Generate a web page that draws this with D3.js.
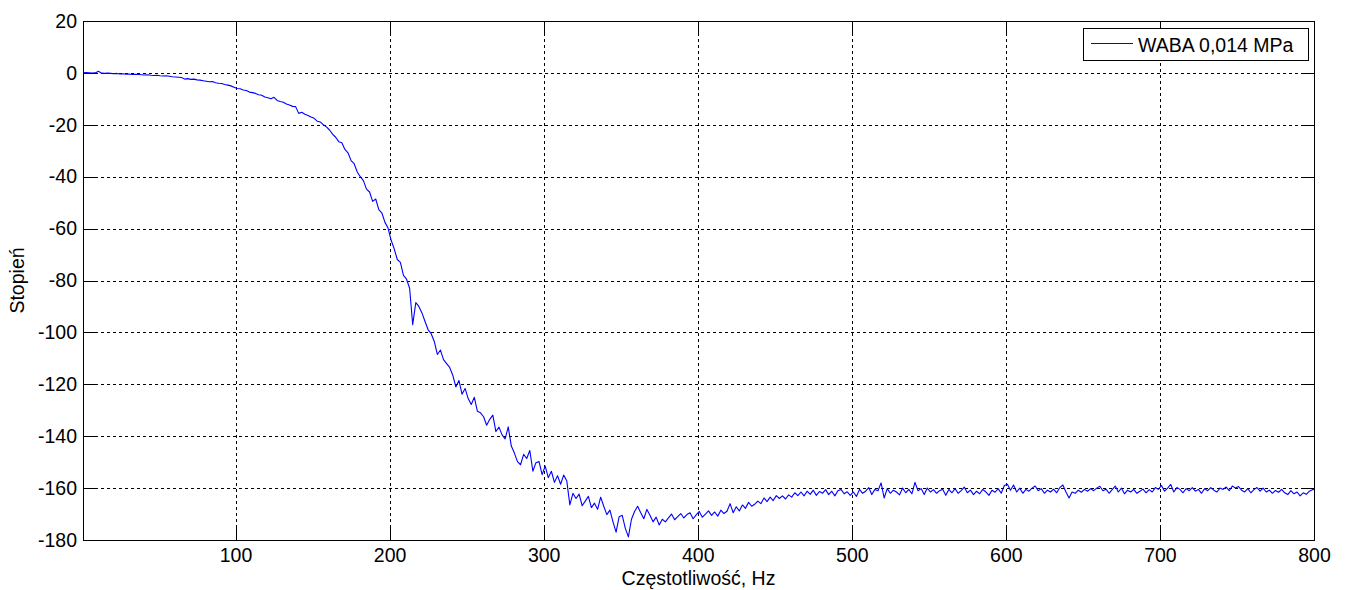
<!DOCTYPE html>
<html>
<head>
<meta charset="utf-8">
<script src="https://cdn.jsdelivr.net/npm/d3@7/dist/d3.min.js"></script>
<style>
  html, body { margin: 0; padding: 0; background: #fff; }
  svg { display: block; font-family: "Liberation Sans", Arial, sans-serif; }
</style>
</head>
<body>
<svg id="chart" width="1347" height="590"></svg>
<script>
// Phase response, sampled every 2 Hz starting at 1 Hz
const freqStart = 1;
const freqStep = 2;
const phaseDeg = [
  // 1–19 Hz
  0, 0.1, 0.0, -0.1, 0.0, 0.6, -0.1, -0.2, -0.1, -0.2,
  // 21–39
  -0.3, -0.2, -0.4, -0.3, -0.5, -0.4, -0.6, -0.5, -0.6, -0.7,
  // 41–59
  -0.8, -0.7, -0.9, -1.0, -0.9, -1.1, -1.2, -1.1, -1.3, -1.5,
  // 61–79
  -1.6, -1.7, -1.8, -2.4, -2.2, -2.5, -2.4, -2.7, -2.8, -3.0,
  // 81–99
  -3.2, -3.4, -3.3, -3.8, -4.0, -4.1, -4.5, -4.7, -5.0, -5.5,
  // 101–119
  -6.0, -6.1, -6.6, -6.8, -7.4, -7.6, -7.9, -8.4, -8.6, -9.3,
  // 121–139
  -9.6, -10.0, -9.4, -10.6, -11.0, -11.3, -12.0, -12.4, -12.9, -13.0,
  // 141–159
  -15.6, -15.2, -15.9, -16.4, -17.0, -17.5, -18.6, -18.9, -20.0, -20.8,
  // 161–179
  -22.0, -23.6, -24.8, -26.5, -26.9, -29.5, -30.8, -33.8, -35.0, -38.2,
  // 181–199
  -40.0, -41.5, -44.8, -45.9, -49.5, -48.6, -52.7, -54.0, -57.6, -59.8,
  // 201–219
  -64.5, -67.8, -71.9, -73.0, -78.0, -79.5, -83.0, -97.0, -88.5, -90.0,
  // 221–239
  -92.5, -95.8, -99.0, -100.5, -103.5, -108.5, -106.8, -110.5, -112.0, -113.5,
  // 241–259
  -116.5, -121.0, -118.5, -123.8, -121.6, -125.5, -127.8, -125.0, -130.4, -131.0,
  // 261–279
  -132.5, -135.8, -133.5, -131.9, -138.2, -136.5, -139.5, -141.0, -136.4, -143.8,
  // 281–299
  -146.5, -149.8, -151.0, -147.0, -148.6, -145.5, -153.5, -150.2, -149.8, -154.8,
  // 301–319
  -151.5, -156.0, -153.5, -157.8, -155.2, -158.5, -155.0, -157.2, -166.5, -162.0,
  // 321–339
  -164.0, -162.3, -166.8, -165.0, -163.2, -167.5, -165.8, -168.2, -163.5, -167.0,
  // 341–359
  -170.2, -168.5, -173.0, -177.0, -171.0, -170.5, -175.5, -178.8, -172.0, -169.0,
  // 361–379
  -167.0, -169.5, -171.8, -168.2, -170.5, -173.0, -171.2, -174.2, -172.0, -173.0,
  // 381–399
  -171.5, -170.0, -172.2, -171.0, -169.8, -171.5, -170.2, -169.5, -171.8, -170.3,
  // 401–419
  -169.0, -171.2, -170.0, -168.8, -170.5, -169.2, -170.8, -168.5, -169.8, -168.9,
  // 421–439
  -166.0, -169.5, -167.2, -168.8, -166.5, -167.8, -165.5, -167.0, -166.2, -165.0,
  // 441–459
  -166.0, -163.8, -165.2, -163.5, -164.8, -162.9, -164.0, -163.0, -164.2, -162.6,
  // 461–479
  -163.5, -161.8, -162.9, -161.5, -163.0, -161.2, -162.4, -160.8, -162.8, -161.3,
  // 481–499
  -162.0, -160.6, -162.5, -161.2, -163.0, -161.0, -160.5, -162.2, -161.4, -162.8,
  // 501–519
  -161.5, -163.2, -160.5, -162.0, -161.2, -159.8, -162.5, -160.5, -161.0, -158.0,
  // 521–539
  -163.8, -160.2, -162.0, -160.8, -161.5, -162.6, -160.0, -161.8, -160.5, -162.2,
  // 541–559
  -157.8, -161.0, -160.2, -162.5, -160.0, -161.5, -160.6, -162.0, -161.0, -160.4,
  // 561–579
  -162.8, -160.5, -161.8, -160.2, -162.0, -161.0, -159.6, -161.8, -160.8, -162.5,
  // 581–599
  -161.2, -162.2, -160.5, -161.5, -162.8, -160.8, -161.6, -160.2, -162.0, -159.0,
  // 601–619
  -158.5, -160.8, -158.8, -161.5, -160.0, -162.0, -160.5, -161.2, -160.0, -159.2,
  // 621–639
  -161.0, -160.2, -162.0, -160.8, -161.5, -160.4, -161.8, -159.8, -158.8, -161.5,
  // 641–659
  -163.8, -161.5, -162.0, -160.8, -161.6, -160.5, -161.2, -160.2, -161.0, -160.0,
  // 661–679
  -159.3, -161.0, -160.4, -162.0, -160.6, -159.2, -161.5, -160.0, -162.2, -160.8,
  // 681–699
  -161.5, -160.5, -162.0, -161.2, -160.4, -161.8, -160.6, -161.5, -159.8, -160.5,
  // 701–719
  -159.0, -161.2, -160.0, -158.6, -161.5, -159.8, -160.5, -161.8, -160.2, -161.0,
  // 721–739
  -159.8, -161.2, -160.5, -162.0, -160.2, -161.0, -159.8, -160.8, -161.5, -160.0,
  // 741–759
  -160.5, -159.6, -161.0, -159.2, -160.0, -159.4, -160.8, -161.5, -160.2, -161.8,
  // 761–779
  -160.6, -159.8, -161.2, -160.0, -161.5, -160.8, -162.0, -160.9, -161.6, -160.5,
  // 781–799
  -161.8, -162.5, -161.0, -162.2, -161.5, -163.0, -161.8, -162.4, -161.2, -160.6,
  // 801
  -160.4
];

const xTicks = [100, 200, 300, 400, 500, 600, 700, 800];
const yTicks = [-180, -160, -140, -120, -100, -80, -60, -40, -20, 0, 20];
const seriesName = "WABA 0,014 MPa";
const xLabel = "Częstotliwość, Hz";
const yLabel = "Stopień";

const margin = { left: 83, top: 21, right: 33, bottom: 50 };
const W = 1347, H = 590;
const pw = W - margin.left - margin.right;   // 1231
const ph = H - margin.top - margin.bottom;   // 519

const svg = d3.select("#chart");
const g = svg.append("g").attr("transform", `translate(${margin.left},${margin.top})`);

const x = d3.scaleLinear().domain([1, 800]).range([0, pw]);
const y = d3.scaleLinear().domain([-180, 20]).range([ph, 0]);

const points = phaseDeg.map((v, i) => [freqStart + i * freqStep, v]);

// Dashed grid
const grid = g.append("g").attr("stroke", "#000").attr("stroke-width", 1)
  .attr("stroke-dasharray", "3,3").attr("shape-rendering", "crispEdges");
grid.selectAll(".gx").data(xTicks.filter(t => t < 800)).enter().append("line")
  .attr("x1", d => Math.round(x(d)) + 0.5).attr("x2", d => Math.round(x(d)) + 0.5)
  .attr("y1", 0).attr("y2", ph);
grid.selectAll(".gy").data(yTicks.filter(t => t > -180 && t < 20)).enter().append("line")
  .attr("y1", d => Math.round(y(d)) + 0.5).attr("y2", d => Math.round(y(d)) + 0.5)
  .attr("x1", 0).attr("x2", pw);

// Clip the trace to the axes box
svg.append("defs").append("clipPath").attr("id", "plotClip")
  .append("rect").attr("width", pw).attr("height", ph);

const line = d3.line().x(d => x(d[0])).y(d => y(d[1]));
g.append("path").datum(points)
  .attr("clip-path", "url(#plotClip)")
  .attr("fill", "none").attr("stroke", "#0000ff").attr("stroke-width", 1.1)
  .attr("stroke-linejoin", "round")
  .attr("d", line);

// Axes: ticks pointing inward on all four sides; plain hyphen for negatives
const tickLen = 13;
const fontSize = 19.5;
const plain = d => String(d);
const axB = d3.axisBottom(x).tickValues(xTicks).tickFormat(plain).tickSizeInner(-tickLen).tickSizeOuter(0).tickPadding(8);
const axT = d3.axisTop(x).tickValues(xTicks).tickSizeInner(-tickLen).tickSizeOuter(0).tickFormat("");
const axL = d3.axisLeft(y).tickValues(yTicks).tickFormat(plain).tickSizeInner(-tickLen).tickSizeOuter(0).tickPadding(6);
const axR = d3.axisRight(y).tickValues(yTicks).tickSizeInner(-tickLen).tickSizeOuter(0).tickFormat("");

function styleAxis(sel) {
  sel.select(".domain").remove();
  sel.selectAll(".tick line").attr("stroke", "#000").attr("shape-rendering", "crispEdges");
  sel.selectAll(".tick text").attr("fill", "#000").attr("font-size", fontSize)
    .attr("font-family", '"Liberation Sans", Arial, sans-serif');
}
g.append("g").attr("transform", `translate(0,${ph})`).call(axB).call(styleAxis);
g.append("g").call(axT).call(styleAxis);
g.append("g").call(axL).call(styleAxis);
g.append("g").attr("transform", `translate(${pw},0)`).call(axR).call(styleAxis);

// Axes box
g.append("rect").attr("x", 0.5).attr("y", 0.5).attr("width", pw).attr("height", ph)
  .attr("fill", "none").attr("stroke", "#000").attr("stroke-width", 1)
  .attr("shape-rendering", "crispEdges");

// Axis titles
svg.append("text").attr("x", margin.left + pw / 2).attr("y", 585)
  .attr("text-anchor", "middle").attr("font-size", fontSize).attr("fill", "#000")
  .text(xLabel);
svg.append("text").attr("transform", `translate(24,${margin.top + ph / 2}) rotate(-90)`)
  .attr("text-anchor", "middle").attr("font-size", fontSize).attr("fill", "#000")
  .text(yLabel);

// Legend
const lg = svg.append("g");
lg.append("rect").attr("x", 1083.5).attr("y", 28.5).attr("width", 225).attr("height", 32)
  .attr("fill", "#fff").attr("stroke", "#000").attr("stroke-width", 1)
  .attr("shape-rendering", "crispEdges");
lg.append("line").attr("x1", 1091).attr("x2", 1133).attr("y1", 43.5).attr("y2", 43.5)
  .attr("stroke", "#0000ff").attr("stroke-width", 1);
lg.append("text").attr("x", 1138).attr("y", 52).attr("font-size", fontSize).attr("fill", "#000")
  .text(seriesName);
</script>
</body>
</html>
